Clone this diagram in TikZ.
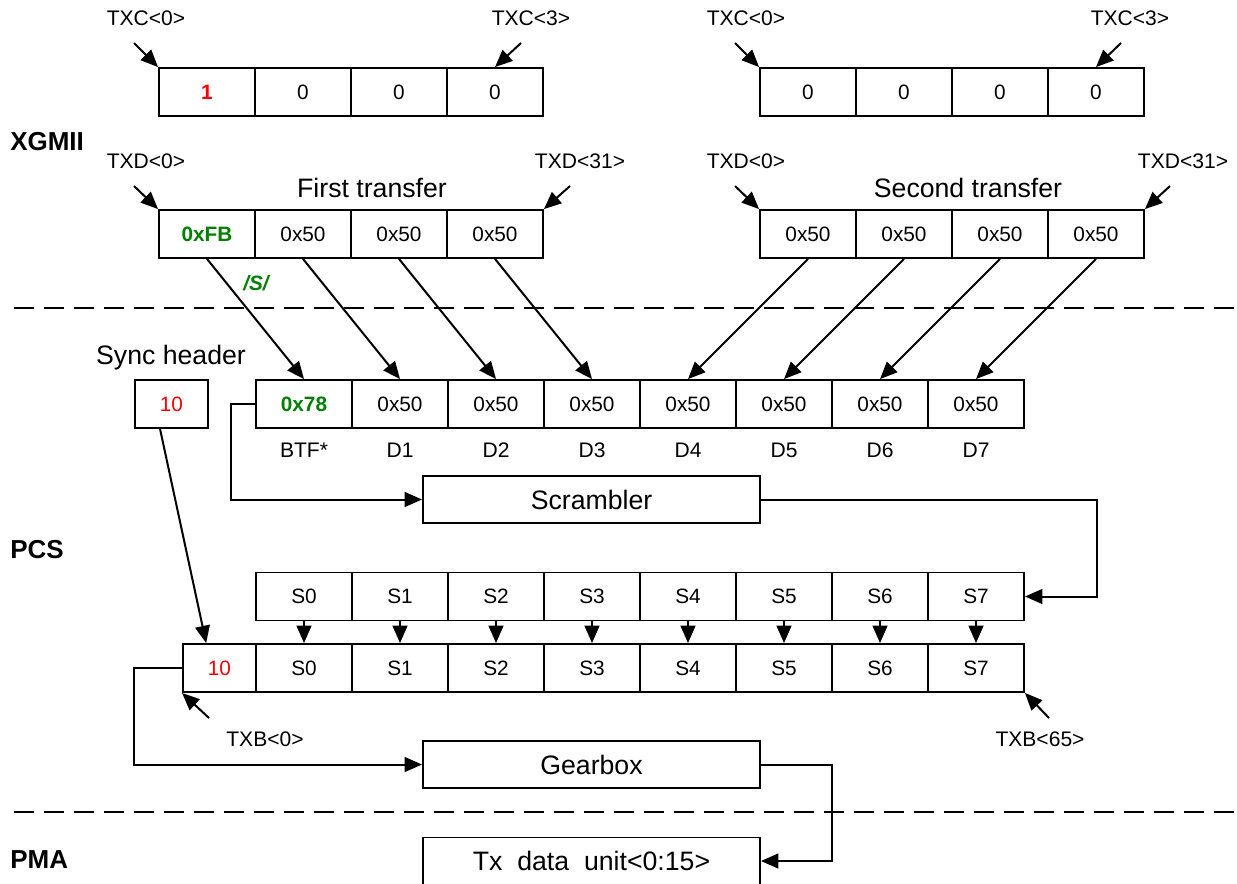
\documentclass[tikz,border=0pt]{standalone}
\usepackage{fontspec}
\setmainfont{Liberation Sans}
\usetikzlibrary{arrows.meta}
\definecolor{sgreen}{RGB}{0,128,0}
\definecolor{sred}{RGB}{255,0,0}
\tikzset{
  cell/.style={draw, line width=1.4pt, minimum width=72pt, minimum height=36pt, inner sep=0pt, font=\fontsize{15.6}{18}\selectfont},
  hcell/.style={cell, minimum width=54.75pt},
  wide/.style={draw, line width=1.4pt, minimum width=252.75pt, minimum height=35.25pt, inner sep=0pt, font=\fontsize{20}{24}\selectfont},
  lbl/.style={inner sep=0pt, font=\fontsize{15.8}{18}\selectfont},
  big/.style={inner sep=0pt, font=\fontsize{20}{24}\selectfont},
  layer/.style={inner sep=0pt, font=\fontsize{19.5}{22}\selectfont\bfseries, anchor=west},
  arr/.style={line width=1.5pt, -{Triangle[length=13pt,width=11pt]}},
  sep/.style={line width=1.2pt, dash pattern=on 15pt off 7.5pt},
}
\begin{document}
\begin{tikzpicture}[x=0.75pt,y=-0.75pt]
\useasboundingbox (0,0) rectangle (1237,883);
% layer labels
\node[layer] (lx) at (10,142) {XGMII};
\node[layer] (lp) at (10,550) {PCS};
\node[layer] (lm) at (10,860) {PMA};
% separators
\draw[sep] (14,308) -- (1237,308);
\draw[sep] (14,812) -- (1237,812);
% TXC rows
\node[cell, text=sred, font=\fontsize{15.6}{18}\selectfont\bfseries] (a1) at (207,92) {1};
\node[cell] (a2) at (303,92) {0};
\node[cell] (a3) at (399,92) {0};
\node[cell] (a4) at (495,92) {0};
\node[cell] (c1) at (808,92) {0};
\node[cell] (c2) at (904,92) {0};
\node[cell] (c3) at (1000,92) {0};
\node[cell] (c4) at (1096,92) {0};
% TXD rows
\node[cell, text=sgreen, font=\fontsize{15.6}{18}\selectfont\bfseries] (f1) at (207,234) {0xFB};
\node[cell] (f2) at (303,234) {0x50};
\node[cell] (f3) at (399,234) {0x50};
\node[cell] (f4) at (495,234) {0x50};
\node[cell] (s1) at (808,234) {0x50};
\node[cell] (s2) at (904,234) {0x50};
\node[cell] (s3) at (1000,234) {0x50};
\node[cell] (s4) at (1096,234) {0x50};
% top labels
\node[lbl] (t1) at (146,18) {TXC<0>};
\node[lbl] (t2) at (531,18) {TXC<3>};
\node[lbl] (t3) at (746,18) {TXC<0>};
\node[lbl] (t4) at (1130,18) {TXC<3>};
\node[lbl] (t5) at (146,161) {TXD<0>};
\node[lbl] (t6) at (580,161) {TXD<31>};
\node[lbl] (t7) at (746,161) {TXD<0>};
\node[lbl] (t8) at (1183,161) {TXD<31>};
\node[big] (ft) at (372,188) {First transfer};
\node[big] (st) at (968,188) {Second transfer};
\coordinate (p1) at (134,43);
\coordinate (p2) at (521,43);
\coordinate (p3) at (735,43);
\coordinate (p4) at (1121,43);
\coordinate (p5) at (134,186);
\coordinate (p6) at (570,186);
\coordinate (p7) at (735,186);
\coordinate (p8) at (1170,186);
\draw[arr] (p1) -- (a1.north west);
\draw[arr] (p2) -- (a4.north);
\draw[arr] (p3) -- (c1.north west);
\draw[arr] (p4) -- (c4.north);
\draw[arr] (p5) -- (f1.north west);
\draw[arr] (p6) -- (f4.north east);
\draw[arr] (p7) -- (s1.north west);
\draw[arr] (p8) -- (s4.north east);
% middle row
\node[big] (sh) at (171,358) {Sync header};
\node[hcell, text=sred] (sync) at (171.5,404) {10};
\node[cell, text=sgreen, font=\fontsize{15.6}{18}\selectfont\bfseries] (m1) at (304,404) {0x78};
\node[cell] (m2) at (400,404) {0x50};
\node[cell] (m3) at (496,404) {0x50};
\node[cell] (m4) at (592,404) {0x50};
\node[cell] (m5) at (688,404) {0x50};
\node[cell] (m6) at (784,404) {0x50};
\node[cell] (m7) at (880,404) {0x50};
\node[cell] (m8) at (976,404) {0x50};
\node[lbl] (d0) at (304,450) {BTF*};
\node[lbl] (d1) at (400,450) {D1};
\node[lbl] (d2) at (496,450) {D2};
\node[lbl] (d3) at (592,450) {D3};
\node[lbl] (d4) at (688,450) {D4};
\node[lbl] (d5) at (784,450) {D5};
\node[lbl] (d6) at (880,450) {D6};
\node[lbl] (d7) at (976,450) {D7};
% mapping arrows
\draw[arr] (f1.south) -- (m1.north);
\draw[arr] (f2.south) -- (m2.north);
\draw[arr] (f3.south) -- (m3.north);
\draw[arr] (f4.south) -- (m4.north);
\draw[arr] (s1.south) -- (m5.north);
\draw[arr] (s2.south) -- (m6.north);
\draw[arr] (s3.south) -- (m7.north);
\draw[arr] (s4.south) -- (m8.north);
\node[inner sep=0pt, text=sgreen, font=\fontsize{15.6}{18}\selectfont\bfseries\itshape] (sl) at (256,283) {/S/};
% scrambler
\node[wide] (scr) at (591.5,499.5) {Scrambler};
\draw[arr] (m1.west) -- ++(-24,0) |- (scr.west);
\coordinate (sturn) at (1097,499.5);
% S row
\node[cell] (r1) at (304,596.5) {S0};
\node[cell] (r2) at (400,596.5) {S1};
\node[cell] (r3) at (496,596.5) {S2};
\node[cell] (r4) at (592,596.5) {S3};
\node[cell] (r5) at (688,596.5) {S4};
\node[cell] (r6) at (784,596.5) {S5};
\node[cell] (r7) at (880,596.5) {S6};
\node[cell] (r8) at (976,596.5) {S7};
\draw[arr] (scr.east) -- (sturn) |- (r8.east);
% bottom row
\node[hcell, text=sred] (b0) at (219.5,668) {10};
\node[cell] (b1) at (304,668) {S0};
\node[cell] (b2) at (400,668) {S1};
\node[cell] (b3) at (496,668) {S2};
\node[cell] (b4) at (592,668) {S3};
\node[cell] (b5) at (688,668) {S4};
\node[cell] (b6) at (784,668) {S5};
\node[cell] (b7) at (880,668) {S6};
\node[cell] (b8) at (976,668) {S7};
\foreach \i in {1,...,8} {\draw[arr] (r\i.south) -- (b\i.north);}
\draw[arr] ([xshift=-8.6pt]sync.south) -- ([xshift=-10pt]b0.north);
% TXB labels
\node[lbl] (tb0) at (265,739) {TXB<0>};
\node[lbl] (tb1) at (1040,739) {TXB<65>};
\coordinate (q1) at (209,718);
\coordinate (q2) at (1049,718);
\draw[arr] (q1) -- (b0.south west);
\draw[arr] (q2) -- (b8.south east);
% gearbox
\node[wide] (gear) at (591.5,764.5) {Gearbox};
\draw[arr] (b0.west) -- ++(-48,0) |- (gear.west);
\node[wide] (tx) at (591.5,861) {Tx\ \ data\ \ unit<0:15>};
\draw[arr] (gear.east) -- ++(71,0) |- (tx.east);
\end{tikzpicture}
\end{document}
